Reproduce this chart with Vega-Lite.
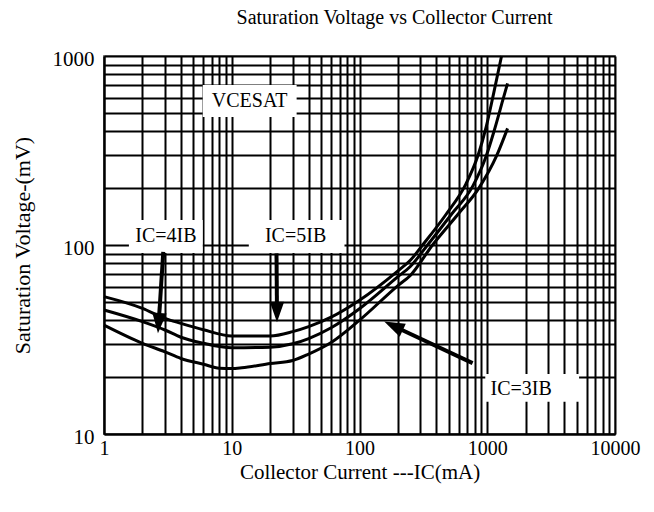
{
  "$schema": "https://vega.github.io/schema/vega-lite/v6.json",
  "autosize": {"type": "none"},
  "width": 511,
  "height": 378,
  "padding": {"left": 104, "top": 56, "right": 39, "bottom": 78},
  "background": "white",
  "title": {"text": "Saturation Voltage vs Collector Current", "font": "Liberation Serif", "fontSize": 20, "fontWeight": "normal", "color": "black", "anchor": "middle", "dx": 35, "offset": 20},
  "config": {
    "view": {"stroke": "#888888", "strokeWidth": 2},
    "axis": {"labelFont": "Liberation Serif", "titleFont": "Liberation Serif", "labelFontSize": 21, "titleFontSize": 22, "titleFontWeight": "normal", "labelFontWeight": "normal", "labelColor": "black", "titleColor": "black", "grid": true, "gridColor": "black", "gridWidth": 2, "gridOpacity": 1, "ticks": false, "domainColor": "black", "domainWidth": 2, "labelOverlap": false, "labelFlush": false},
    "axisX": {"values": [1,2,3,4,5,6,7,8,9,10,20,30,40,50,60,70,80,90,100,200,300,400,500,600,700,800,900,1000,2000,3000,4000,5000,6000,7000,8000,9000,10000],
      "labelExpr": "indexof([1,10,100,1000,10000], datum.value) >= 0 ? format(datum.value, 'd') : ''",
      "labelFontSize": 20, "labelPadding": 4, "titleFontSize": 21, "titlePadding": 3},
    "axisY": {"values": [10,20,30,40,50,60,70,80,90,100,200,300,400,500,600,700,800,900,1000],
      "labelExpr": "indexof([10,100,1000], datum.value) >= 0 ? format(datum.value, 'd') : ''",
      "labelPadding": 10, "labelOffset": 3, "titlePadding": 18}
  },
  "datasets": {
    "curves": [
      {"series": "A", "ic": 1, "v": 53.3}, {"series": "A", "ic": 2, "v": 46.2}, {"series": "A", "ic": 3, "v": 40.9}, {"series": "A", "ic": 4, "v": 38.5}, {"series": "A", "ic": 6, "v": 35.6}, {"series": "A", "ic": 10, "v": 33}, {"series": "A", "ic": 20, "v": 33}, {"series": "A", "ic": 30, "v": 34.8}, {"series": "A", "ic": 40, "v": 37}, {"series": "A", "ic": 60, "v": 41.5}, {"series": "A", "ic": 100, "v": 51}, {"series": "A", "ic": 200, "v": 73}, {"series": "A", "ic": 250, "v": 83}, {"series": "A", "ic": 312, "v": 100}, {"series": "A", "ic": 475, "v": 145}, {"series": "A", "ic": 680, "v": 210}, {"series": "A", "ic": 850, "v": 300}, {"series": "A", "ic": 980, "v": 420}, {"series": "A", "ic": 1120, "v": 630}, {"series": "A", "ic": 1294, "v": 1000},
      {"series": "B", "ic": 1, "v": 45.3}, {"series": "B", "ic": 2, "v": 39.3}, {"series": "B", "ic": 3, "v": 35.5}, {"series": "B", "ic": 4, "v": 32.5}, {"series": "B", "ic": 6, "v": 30.2}, {"series": "B", "ic": 10, "v": 28.6}, {"series": "B", "ic": 20, "v": 28.8}, {"series": "B", "ic": 30, "v": 30}, {"series": "B", "ic": 40, "v": 32}, {"series": "B", "ic": 60, "v": 36.5}, {"series": "B", "ic": 100, "v": 46}, {"series": "B", "ic": 200, "v": 68}, {"series": "B", "ic": 250, "v": 77}, {"series": "B", "ic": 341, "v": 100}, {"series": "B", "ic": 523, "v": 145}, {"series": "B", "ic": 770, "v": 205}, {"series": "B", "ic": 980, "v": 295}, {"series": "B", "ic": 1130, "v": 400}, {"series": "B", "ic": 1320, "v": 580}, {"series": "B", "ic": 1442, "v": 717},
      {"series": "C", "ic": 1, "v": 37.7}, {"series": "C", "ic": 2, "v": 30.2}, {"series": "C", "ic": 3, "v": 27.2}, {"series": "C", "ic": 4, "v": 25.1}, {"series": "C", "ic": 6, "v": 23.4}, {"series": "C", "ic": 8, "v": 22.3}, {"series": "C", "ic": 10, "v": 22.2}, {"series": "C", "ic": 12, "v": 22.4}, {"series": "C", "ic": 20, "v": 23.6}, {"series": "C", "ic": 30, "v": 24.5}, {"series": "C", "ic": 40, "v": 26.5}, {"series": "C", "ic": 60, "v": 30.5}, {"series": "C", "ic": 100, "v": 40}, {"series": "C", "ic": 200, "v": 61}, {"series": "C", "ic": 250, "v": 69}, {"series": "C", "ic": 373, "v": 100}, {"series": "C", "ic": 588, "v": 145}, {"series": "C", "ic": 860, "v": 200}, {"series": "C", "ic": 1180, "v": 295}, {"series": "C", "ic": 1442, "v": 414}
    ],
    "boxes": [
      {"label": "VCESAT", "x1": 5.93, "x2": 32.2, "y1": 475, "y2": 703, "tx": 13.8, "ty": 578},
      {"label": "IC=4IB", "x1": 1.567, "x2": 5.93, "y1": 90.8, "y2": 135.5, "tx": 3.05, "ty": 111.7},
      {"label": "IC=5IB", "x1": 13.6, "x2": 76.3, "y1": 90.8, "y2": 135.5, "tx": 31.6, "ty": 111.7},
      {"label": "IC=3IB", "x1": 965, "x2": 5234, "y1": 14.8, "y2": 20.8, "tx": 1845, "ty": 17.3}
    ],
    "arrows": [
      {"id": "4IB", "x1": 2.91, "y1": 91.9, "hx": 2.68, "hy": 38.6},
      {"id": "5IB", "x1": 22.4, "y1": 90.3, "hx": 22.6, "hy": 44.2},
      {"id": "3IB", "x1": 768, "y1": 23.7, "hx": 184.5, "hy": 37.3}
    ]
  },
  "encoding": {
    "x": {"field": "ic", "type": "quantitative", "scale": {"type": "log", "domain": [1, 10000]}, "title": "Collector Current ---IC(mA)"},
    "y": {"field": "v", "type": "quantitative", "scale": {"type": "log", "domain": [10, 1000]}, "title": "Saturation Voltage-(mV)"}
  },
  "layer": [
    {
      "data": {"name": "boxes"},
      "mark": {"type": "rect", "fill": "white"},
      "encoding": {
        "x": {"field": "x1", "type": "quantitative", "scale": {"type": "log", "domain": [1, 10000]}, "title": "Collector Current ---IC(mA)"},
        "x2": {"field": "x2"},
        "y": {"field": "y1", "type": "quantitative", "scale": {"type": "log", "domain": [10, 1000]}, "title": "Saturation Voltage-(mV)"},
        "y2": {"field": "y2"}
      }
    },
    {
      "data": {"name": "boxes"},
      "mark": {"type": "text", "font": "Liberation Serif", "fontSize": 20, "color": "black", "align": "center", "baseline": "middle"},
      "encoding": {
        "x": {"field": "tx", "type": "quantitative", "scale": {"type": "log", "domain": [1, 10000]}, "title": "Collector Current ---IC(mA)"},
        "y": {"field": "ty", "type": "quantitative", "scale": {"type": "log", "domain": [10, 1000]}, "title": "Saturation Voltage-(mV)"},
        "text": {"field": "label"}
      }
    },
    {
      "data": {"name": "arrows"},
      "mark": {"type": "rule", "color": "black", "strokeWidth": 4},
      "encoding": {
        "x": {"field": "x1", "type": "quantitative", "scale": {"type": "log", "domain": [1, 10000]}, "title": "Collector Current ---IC(mA)"},
        "y": {"field": "y1", "type": "quantitative", "scale": {"type": "log", "domain": [10, 1000]}, "title": "Saturation Voltage-(mV)"},
        "x2": {"field": "hx"},
        "y2": {"field": "hy"}
      }
    },
    {
      "data": {"name": "arrows"},
      "transform": [{"filter": "datum.id == '4IB'"}],
      "mark": {"type": "point", "shape": "M0,-1L0.7,1L-0.7,1Z", "size": 420, "filled": true, "color": "black", "opacity": 1, "angle": 184},
      "encoding": {
        "x": {"field": "hx", "type": "quantitative", "scale": {"type": "log", "domain": [1, 10000]}, "title": "Collector Current ---IC(mA)"},
        "y": {"field": "hy", "type": "quantitative", "scale": {"type": "log", "domain": [10, 1000]}, "title": "Saturation Voltage-(mV)"}
      }
    },
    {
      "data": {"name": "arrows"},
      "transform": [{"filter": "datum.id == '5IB'"}],
      "mark": {"type": "point", "shape": "M0,-1L0.7,1L-0.7,1Z", "size": 420, "filled": true, "color": "black", "opacity": 1, "angle": 180},
      "encoding": {
        "x": {"field": "hx", "type": "quantitative", "scale": {"type": "log", "domain": [1, 10000]}, "title": "Collector Current ---IC(mA)"},
        "y": {"field": "hy", "type": "quantitative", "scale": {"type": "log", "domain": [10, 1000]}, "title": "Saturation Voltage-(mV)"}
      }
    },
    {
      "data": {"name": "arrows"},
      "transform": [{"filter": "datum.id == '3IB'"}],
      "mark": {"type": "point", "shape": "M0,-1L0.7,1L-0.7,1Z", "size": 420, "filled": true, "color": "black", "opacity": 1, "angle": 295},
      "encoding": {
        "x": {"field": "hx", "type": "quantitative", "scale": {"type": "log", "domain": [1, 10000]}, "title": "Collector Current ---IC(mA)"},
        "y": {"field": "hy", "type": "quantitative", "scale": {"type": "log", "domain": [10, 1000]}, "title": "Saturation Voltage-(mV)"}
      }
    },
    {
      "data": {"name": "curves"},
      "mark": {"type": "line", "color": "black", "strokeWidth": 3, "interpolate": "monotone"},
      "encoding": {
        "detail": {"field": "series"},
        "order": {"field": "ic"}
      }
    }
  ]
}
